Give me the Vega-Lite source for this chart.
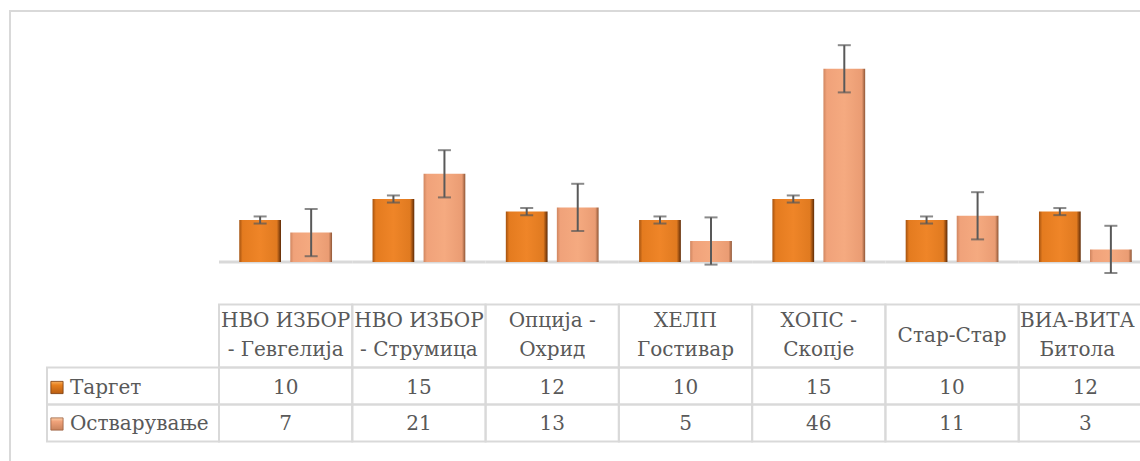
{
  "$schema": "https://vega.github.io/schema/vega-lite/v6.json",
  "width": 1140,
  "height": 460,
  "padding": {"left": 10, "top": 11, "right": -10, "bottom": -10},
  "autosize": {"type": "none"},
  "background": "white",
  "config": {
    "view": {"stroke": "#d9d9d9", "strokeWidth": 2},
    "axis": {"disable": true},
    "text": {"font": "DejaVu Serif", "fontSize": 20, "color": "#595959"}
  },
  "datasets": {
    "d": [
      {"cat": "НВО ИЗБОР - Гевгелија", "label": "НВО ИЗБОР\n- Гевгелија", "lines": 2, "series": "Таргет", "value": 10, "lo": 9.155, "hi": 10.845},
      {"cat": "НВО ИЗБОР - Струмица", "label": "НВО ИЗБОР\n- Струмица", "lines": 2, "series": "Таргет", "value": 15, "lo": 14.155, "hi": 15.845},
      {"cat": "Опција - Охрид", "label": "Опција -\nОхрид", "lines": 2, "series": "Таргет", "value": 12, "lo": 11.155, "hi": 12.845},
      {"cat": "ХЕЛП Гостивар", "label": "ХЕЛП\nГостивар", "lines": 2, "series": "Таргет", "value": 10, "lo": 9.155, "hi": 10.845},
      {"cat": "ХОПС - Скопје", "label": "ХОПС -\nСкопје", "lines": 2, "series": "Таргет", "value": 15, "lo": 14.155, "hi": 15.845},
      {"cat": "Стар-Стар", "label": "Стар-Стар", "lines": 1, "series": "Таргет", "value": 10, "lo": 9.155, "hi": 10.845},
      {"cat": "ВИА-ВИТА Битола", "label": "ВИА-ВИТА\nБитола", "lines": 2, "series": "Таргет", "value": 12, "lo": 11.155, "hi": 12.845},
      {"cat": "НВО ИЗБОР - Гевгелија", "label": "НВО ИЗБОР\n- Гевгелија", "lines": 2, "series": "Остварување", "value": 7, "lo": 1.38, "hi": 12.62},
      {"cat": "НВО ИЗБОР - Струмица", "label": "НВО ИЗБОР\n- Струмица", "lines": 2, "series": "Остварување", "value": 21, "lo": 15.38, "hi": 26.62},
      {"cat": "Опција - Охрид", "label": "Опција -\nОхрид", "lines": 2, "series": "Остварување", "value": 13, "lo": 7.38, "hi": 18.62},
      {"cat": "ХЕЛП Гостивар", "label": "ХЕЛП\nГостивар", "lines": 2, "series": "Остварување", "value": 5, "lo": -0.62, "hi": 10.62},
      {"cat": "ХОПС - Скопје", "label": "ХОПС -\nСкопје", "lines": 2, "series": "Остварување", "value": 46, "lo": 40.38, "hi": 51.62},
      {"cat": "Стар-Стар", "label": "Стар-Стар", "lines": 1, "series": "Остварување", "value": 11, "lo": 5.38, "hi": 16.62},
      {"cat": "ВИА-ВИТА Битола", "label": "ВИА-ВИТА\nБитола", "lines": 2, "series": "Остварување", "value": 3, "lo": -2.62, "hi": 8.62}
    ]
  },
  "data": {"name": "d"},
  "resolve": {"scale": {"x": "independent"}},
  "layer": [
    {
      "layer": [
        {
          "transform": [{"filter": "datum.series === 'Таргет'"}],
          "mark": {"type": "rect", "color": "#d9d9d9"},
          "encoding": {
            "x": {"field": "cat", "type": "nominal", "sort": null, "scale": {"domain": ["НВО ИЗБОР - Гевгелија", "НВО ИЗБОР - Струмица", "Опција - Охрид", "ХЕЛП Гостивар", "ХОПС - Скопје", "Стар-Стар", "ВИА-ВИТА Битола"], "range": [209, 1142], "paddingInner": 0, "paddingOuter": 0}},
            "y": {"datum": 0.35, "type": "quantitative", "scale": {"domain": [-49.76, 59.76], "nice": false, "zero": false}},
            "y2": {"datum": -0.35}
          }
        },
        {
          "transform": [{"filter": "datum.series === 'Таргет'"}],
          "mark": {"type": "bar", "color": {"gradient": "linear", "x1": 0, "y1": 0, "x2": 1, "y2": 0, "stops": [{"offset": 0, "color": "#a4520f"}, {"offset": 0.08, "color": "#e47b1f"}, {"offset": 0.5, "color": "#ef8528"}, {"offset": 0.9, "color": "#e07a20"}, {"offset": 1, "color": "#5e2a06"}]}},
          "encoding": {
            "x": {"field": "cat", "type": "nominal", "sort": null},
            "xOffset": {"field": "series", "type": "nominal", "scale": {"domain": ["Таргет", "Остварување"], "paddingInner": 0.182, "paddingOuter": 0.397}},
            "y": {"field": "value", "type": "quantitative"},
            "y2": {"datum": 0}
          }
        },
        {
          "transform": [{"filter": "datum.series === 'Остварување'"}],
          "mark": {"type": "bar", "color": {"gradient": "linear", "x1": 0, "y1": 0, "x2": 1, "y2": 0, "stops": [{"offset": 0, "color": "#d08660"}, {"offset": 0.08, "color": "#f0a27a"}, {"offset": 0.5, "color": "#f5aa80"}, {"offset": 0.92, "color": "#ea9c73"}, {"offset": 1, "color": "#8f5636"}]}},
          "encoding": {
            "x": {"field": "cat", "type": "nominal", "sort": null},
            "xOffset": {"field": "series", "type": "nominal"},
            "y": {"field": "value", "type": "quantitative"},
            "y2": {"datum": 0}
          }
        },
        {
          "mark": {"type": "rule", "color": "#595959", "strokeWidth": 2},
          "encoding": {
            "x": {"field": "cat", "type": "nominal", "sort": null},
            "xOffset": {"field": "series", "type": "nominal"},
            "y": {"field": "lo", "type": "quantitative"},
            "y2": {"field": "hi"}
          }
        },
        {
          "mark": {"type": "tick", "color": "#595959", "thickness": 2, "size": 13},
          "encoding": {
            "x": {"field": "cat", "type": "nominal", "sort": null},
            "xOffset": {"field": "series", "type": "nominal"},
            "y": {"field": "lo", "type": "quantitative"}
          }
        },
        {
          "mark": {"type": "tick", "color": "#595959", "thickness": 2, "size": 13},
          "encoding": {
            "x": {"field": "cat", "type": "nominal", "sort": null},
            "xOffset": {"field": "series", "type": "nominal"},
            "y": {"field": "hi", "type": "quantitative"}
          }
        },
        {
          "transform": [{"filter": "datum.series === 'Таргет'"}],
          "mark": {"type": "rect", "fill": null, "stroke": "#d9d9d9", "strokeWidth": 2},
          "encoding": {
            "x": {"field": "cat", "type": "nominal", "sort": null},
            "y": {"datum": -10.12, "type": "quantitative"},
            "y2": {"datum": -25.12}
          }
        },
        {
          "transform": [{"filter": "datum.series === 'Таргет'"}],
          "mark": {"type": "rect", "fill": null, "stroke": "#d9d9d9", "strokeWidth": 2},
          "encoding": {
            "x": {"field": "cat", "type": "nominal", "sort": null},
            "y": {"datum": -25.12, "type": "quantitative"},
            "y2": {"datum": -33.93}
          }
        },
        {
          "transform": [{"filter": "datum.series === 'Таргет'"}],
          "mark": {"type": "rect", "fill": null, "stroke": "#d9d9d9", "strokeWidth": 2},
          "encoding": {
            "x": {"field": "cat", "type": "nominal", "sort": null},
            "y": {"datum": -33.93, "type": "quantitative"},
            "y2": {"datum": -42.74}
          }
        },
        {
          "transform": [{"filter": "datum.series === 'Таргет' && datum.lines === 2 && datum.cat !== 'ВИА-ВИТА Битола'"}],
          "mark": {"type": "text", "baseline": "middle", "align": "center", "lineBreak": "\n", "lineHeight": 29},
          "encoding": {
            "x": {"field": "cat", "type": "nominal", "sort": null},
            "y": {"datum": -13.93, "type": "quantitative"},
            "text": {"field": "label"}
          }
        },
        {
          "transform": [{"filter": "datum.series === 'Таргет' && datum.cat === 'ВИА-ВИТА Битола'"}],
          "mark": {"type": "text", "baseline": "middle", "align": "center", "lineBreak": "\n", "lineHeight": 29, "dx": -8},
          "encoding": {
            "x": {"field": "cat", "type": "nominal", "sort": null},
            "y": {"datum": -13.93, "type": "quantitative"},
            "text": {"field": "label"}
          }
        },
        {
          "transform": [{"filter": "datum.series === 'Таргет' && datum.lines === 1"}],
          "mark": {"type": "text", "baseline": "middle", "align": "center"},
          "encoding": {
            "x": {"field": "cat", "type": "nominal", "sort": null},
            "y": {"datum": -17.62, "type": "quantitative"},
            "text": {"field": "label"}
          }
        },
        {
          "transform": [{"filter": "datum.series === 'Таргет'"}],
          "mark": {"type": "text", "baseline": "middle", "align": "center"},
          "encoding": {
            "x": {"field": "cat", "type": "nominal", "sort": null},
            "y": {"datum": -29.88, "type": "quantitative"},
            "text": {"field": "value"}
          }
        },
        {
          "transform": [{"filter": "datum.series === 'Остварување'"}],
          "mark": {"type": "text", "baseline": "middle", "align": "center"},
          "encoding": {
            "x": {"field": "cat", "type": "nominal", "sort": null},
            "y": {"datum": -38.57, "type": "quantitative"},
            "text": {"field": "value"}
          }
        }
      ]
    },
    {
      "transform": [{"filter": "datum.cat === 'НВО ИЗБОР - Гевгелија'"}],
      "layer": [
        {
          "transform": [{"filter": "datum.series === 'Таргет'"}],
          "mark": {"type": "rect", "fill": null, "stroke": "#d9d9d9", "strokeWidth": 2},
          "encoding": {
            "x": {"datum": 0, "type": "quantitative", "scale": {"domain": [0, 1], "range": [37, 209], "nice": false, "zero": false}},
            "x2": {"datum": 1},
            "y": {"datum": -25.12, "type": "quantitative"},
            "y2": {"datum": -33.93}
          }
        },
        {
          "transform": [{"filter": "datum.series === 'Остварување'"}],
          "mark": {"type": "rect", "fill": null, "stroke": "#d9d9d9", "strokeWidth": 2},
          "encoding": {
            "x": {"datum": 0, "type": "quantitative"},
            "x2": {"datum": 1},
            "y": {"datum": -33.93, "type": "quantitative"},
            "y2": {"datum": -42.74}
          }
        },
        {
          "transform": [{"filter": "datum.series === 'Таргет'"}],
          "mark": {"type": "point", "shape": "square", "filled": true, "size": 150, "opacity": 1, "stroke": "#7a3a0a", "strokeWidth": 0.8, "fill": {"gradient": "linear", "x1": 0, "y1": 0, "x2": 0, "y2": 1, "stops": [{"offset": 0, "color": "#f7b060"}, {"offset": 0.3, "color": "#e8801e"}, {"offset": 1, "color": "#b85d12"}]}},
          "encoding": {
            "x": {"datum": 0.058, "type": "quantitative"},
            "y": {"datum": -29.88, "type": "quantitative"}
          }
        },
        {
          "transform": [{"filter": "datum.series === 'Остварување'"}],
          "mark": {"type": "point", "shape": "square", "filled": true, "size": 150, "opacity": 1, "stroke": "#9a6040", "strokeWidth": 0.8, "fill": {"gradient": "linear", "x1": 0, "y1": 0, "x2": 0, "y2": 1, "stops": [{"offset": 0, "color": "#fcd0a8"}, {"offset": 0.3, "color": "#f0a27a"}, {"offset": 1, "color": "#c8825c"}]}},
          "encoding": {
            "x": {"datum": 0.058, "type": "quantitative"},
            "y": {"datum": -38.57, "type": "quantitative"}
          }
        },
        {
          "transform": [{"filter": "datum.series === 'Таргет'"}],
          "mark": {"type": "text", "baseline": "middle", "align": "left"},
          "encoding": {
            "x": {"datum": 0.133, "type": "quantitative"},
            "y": {"datum": -29.88, "type": "quantitative"},
            "text": {"field": "series"}
          }
        },
        {
          "transform": [{"filter": "datum.series === 'Остварување'"}],
          "mark": {"type": "text", "baseline": "middle", "align": "left"},
          "encoding": {
            "x": {"datum": 0.133, "type": "quantitative"},
            "y": {"datum": -38.57, "type": "quantitative"},
            "text": {"field": "series"}
          }
        }
      ]
    }
  ]
}
